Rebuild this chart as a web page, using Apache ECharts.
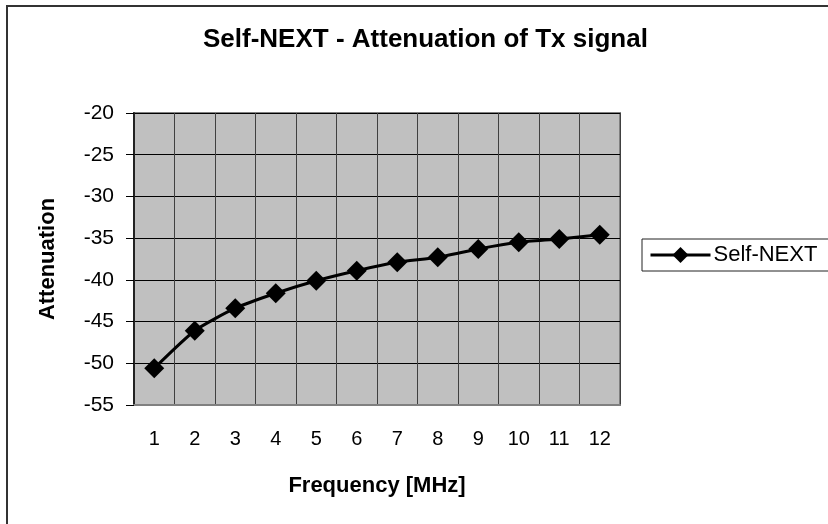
<!DOCTYPE html>
<html>
<head>
<meta charset="utf-8">
<script src="https://cdn.jsdelivr.net/npm/echarts@6/dist/echarts.min.js"></script>
<style>html,body{margin:0;padding:0;background:#fff;}#c{width:828px;height:524px;}</style>
</head>
<body>
<div id="c"></div>
<script>
const categories = ['1','2','3','4','5','6','7','8','9','10','11','12'];
const selfNext = [-50.6, -46.1, -43.4, -41.6, -40.1, -38.9, -37.9, -37.3, -36.3, -35.5, -35.1, -34.6];
const seriesName = 'Self-NEXT';
const titleText = 'Self-NEXT - Attenuation of Tx signal';
const xName = 'Frequency [MHz]';
const yName = 'Attenuation';

const chart = echarts.init(document.getElementById('c'), null, {renderer: 'canvas'});
const font = 'Arial, "Liberation Sans", sans-serif';
chart.setOption({
  animation: false,
  backgroundColor: '#fff',
  textStyle: {fontFamily: font},
  title: {
    text: titleText,
    left: 198, top: 22,
    textStyle: {fontFamily: font, fontSize: 26, fontWeight: 'bold', color: '#000'}
  },
  graphic: [{
    type: 'polyline', silent: true,
    shape: {points: [[7, 524], [7, 6], [828, 6]]},
    style: {stroke: '#333', lineWidth: 2, fill: null}
  }],
  legend: {
    data: [seriesName],
    left: 642, top: 239,
    orient: 'vertical',
    padding: [5, 30, 5, 7],
    borderColor: '#222', borderWidth: 1,
    itemWidth: 60, itemHeight: 20, itemGap: 0,
    lineStyle: {width: 3, color: '#000'},
    textStyle: {fontFamily: font, fontSize: 22, color: '#000', padding: [0, 0, 0, -2]}
  },
  grid: {
    left: 134, right: 208, top: 113, bottom: 119,
    show: true, backgroundColor: '#c0c0c0', borderColor: '#808080', borderWidth: 2
  },
  xAxis: {
    type: 'category',
    data: categories,
    boundaryGap: true,
    name: xName, nameLocation: 'middle', nameGap: 70,
    nameTextStyle: {fontFamily: font, fontSize: 22, fontWeight: 'bold', color: '#000'},
    axisLine: {show: true, lineStyle: {color: '#808080', width: 2}},
    axisTick: {show: false},
    axisLabel: {margin: 24, fontSize: 20, color: '#000', fontFamily: font},
    splitLine: {show: true, lineStyle: {color: '#404040', width: 1}}
  },
  yAxis: {
    type: 'value',
    min: -55, max: -20, interval: 5,
    name: yName, nameLocation: 'middle', nameGap: 75, nameRotate: 90,
    nameTextStyle: {fontFamily: font, fontSize: 22, fontWeight: 'bold', color: '#000'},
    axisLine: {show: true, lineStyle: {color: '#222', width: 2}},
    axisTick: {show: true, length: 8, lineStyle: {color: '#000', width: 1}},
    axisLabel: {margin: 20, fontSize: 21, color: '#000', fontFamily: font},
    splitLine: {show: true, lineStyle: {color: '#000', width: 1}}
  },
  series: [{
    name: seriesName,
    type: 'line',
    data: selfNext,
    symbol: 'diamond',
    symbolSize: 20,
    smooth: 0.2,
    lineStyle: {color: '#000', width: 3},
    itemStyle: {color: '#000'},
    z: 5
  }]
});
</script>
</body>
</html>
